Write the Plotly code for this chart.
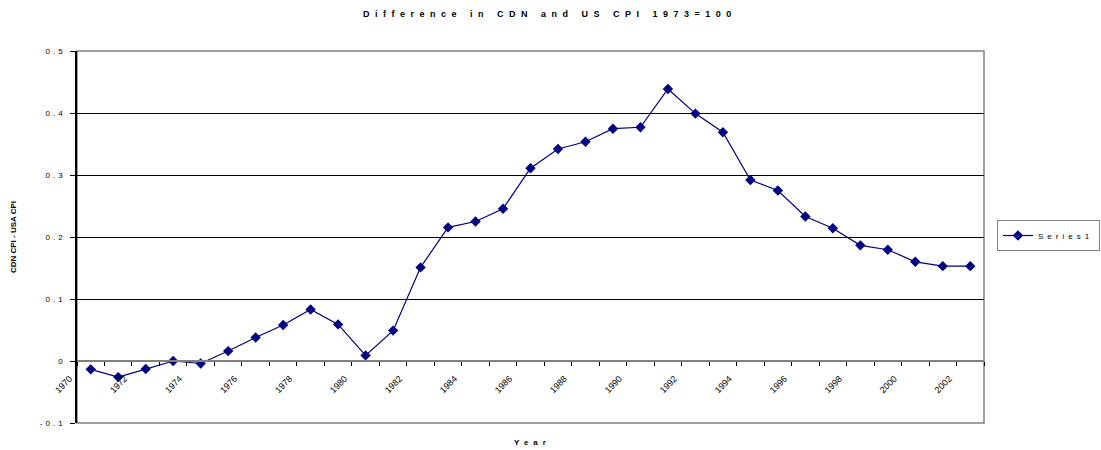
import plotly.graph_objects as go

years = list(range(1970, 2003))
diff = [-0.0135, -0.026, -0.013, 0.0, -0.004, 0.016, 0.038, 0.058, 0.083, 0.059,
        0.009, 0.049, 0.151, 0.2155, 0.225, 0.2456, 0.311, 0.342, 0.3537, 0.3747,
        0.377, 0.4387, 0.399, 0.369, 0.292, 0.275, 0.233, 0.214, 0.1865, 0.1795,
        0.160, 0.153, 0.153]
label_years = years[::2]
y_ticks = [-0.1, 0, 0.1, 0.2, 0.3, 0.4, 0.5]
y_ticktext = ["-0.1", "0", "0.1", "0.2", "0.3", "0.4", "0.5"]

NAVY = "#000080"
FONT = "Liberation Sans, Arial, sans-serif"

fig = go.Figure()
fig.add_trace(go.Scatter(
    x=years, y=diff, mode="lines+markers", name="Series1",
    line=dict(color=NAVY, width=1.2),
    marker=dict(symbol="diamond", size=8, color=NAVY),
))

y0, y1 = y_ticks[0], y_ticks[-1]
zero_pos = (0 - y0) / (y1 - y0)

fig.update_layout(
    width=1101, height=450,
    margin=dict(l=77, r=117, t=51, b=27, autoexpand=False),
    paper_bgcolor="white", plot_bgcolor="white",
    font=dict(family=FONT, size=8, color="black"),
    title=dict(text="<b>Difference in CDN and US CPI 1973=100</b>",
               font=dict(size=9, family=FONT, color="black"),
               x=0.4995, xref="container", xanchor="center",
               y=1 - 14 / 450, yref="container", yanchor="middle"),
    showlegend=True,
    legend=dict(x=1.0143, y=0.504, xanchor="left", yanchor="middle",
                bordercolor="#808080", borderwidth=1, bgcolor="white",
                font=dict(size=8, family=FONT, color="black"),
                tracegroupgap=0, itemwidth=30),
    xaxis=dict(
        range=[years[0] - 0.5, years[-1] + 0.5],
        anchor="free", position=zero_pos,
        showline=True, linecolor="#808080", linewidth=2,
        showgrid=False, zeroline=False,
        tickmode="array", tickvals=label_years,
        ticktext=[str(v) for v in label_years],
        ticks="", tickangle=-45, ticklabelshift=-21, ticklabelstandoff=8,
        tickfont=dict(size=9, family=FONT, color="black"),
        minor=dict(ticks="outside", tick0=years[0] - 0.5, dtick=1,
                   ticklen=4, tickcolor="black", tickwidth=1, showgrid=False),
        title=None,
    ),
    yaxis=dict(
        range=[y0, y1],
        tickmode="array", tickvals=y_ticks, ticktext=y_ticktext,
        ticks="outside", ticklen=5, tickcolor="black", tickwidth=1,
        ticklabelstandoff=3,
        showline=True, linecolor="black", linewidth=1.5,
        showgrid=True, gridcolor="black", gridwidth=1,
        zeroline=False,
        tickfont=dict(size=8, family=FONT, color="black"),
        title=dict(text="<b>CDN CPI - USA CPI</b>", standoff=34,
                   font=dict(size=8, family=FONT, color="black")),
    ),
    annotations=[dict(text="<b>Year</b>", xref="paper", yref="paper",
                      x=0.5 + 2 / 907, y=-19 / 372, xanchor="center", yanchor="middle",
                      showarrow=False, font=dict(size=8, family=FONT, color="black"),
                      name="xtitle")],
    shapes=[dict(type="rect", xref="paper", yref="paper", x0=0, x1=1, y0=0, y1=1,
                 line=dict(color="#808080", width=1.5), layer="below")],
)

post = """
var s=document.createElement('style');
s.textContent='body{margin:0} .gtitle{letter-spacing:5.5px} .ytick text{letter-spacing:3px} .legendtext{letter-spacing:4px} .annotation-text{letter-spacing:5px}';
document.head.appendChild(s);
var gd=document.getElementById('{plot_id}');
Plotly.relayout(gd, {'legend.font.size': 8.001});
"""
fig.write_html("out.html", post_script=post, config={"displayModeBar": False})
